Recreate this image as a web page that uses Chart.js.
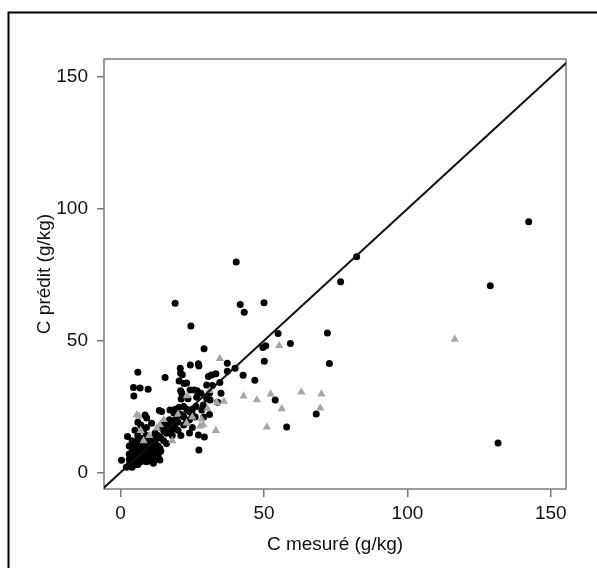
<!DOCTYPE html>
<html>
<head>
<meta charset="utf-8">
<script src="https://cdn.jsdelivr.net/npm/chart.js@4"></script>
<style>
  body { margin: 0; background: #fff; }
  canvas { display: block; }
</style>
</head>
<body>
<canvas id="myChart" width="597" height="568"></canvas>
<script>
// black dots: [C mesuré, C prédit] (g/kg)
const blackPoints = [
  [142.3, 95.1], [131.6, 11.2], [128.9, 70.8], [82.3, 81.8], [76.7, 72.4], [72.1, 52.9], [72.8, 41.3],
  [68.2, 22.2], [54.9, 52.7], [59.2, 48.9], [57.9, 17.2], [53.9, 27.5], [50.1, 42.2], [49.6, 47.4],
  [50.6, 48.1], [50.0, 64.4], [43.1, 60.8], [41.7, 63.7], [40.3, 79.9], [19.0, 64.2], [24.5, 55.6],
  [29.1, 46.9], [46.8, 35.0], [42.7, 36.9], [37.2, 41.4], [37.2, 38.4], [39.9, 39.5], [33.2, 37.4],
  [31.7, 37.0], [30.6, 36.4], [34.6, 34.1], [30.0, 33.2], [24.3, 40.8], [27.1, 41.2], [20.8, 39.5],
  [20.9, 37.6], [6.0, 38.0], [15.5, 36.0], [20.4, 34.7], [22.1, 33.7], [4.5, 32.2], [6.8, 32.0],
  [9.6, 31.6], [4.6, 29.0], [20.9, 31.0], [24.2, 31.3], [25.6, 31.3], [26.7, 31.0], [21.1, 27.9],
  [23.5, 28.0], [26.5, 28.5], [31.2, 27.5], [33.8, 26.6], [28.8, 25.6], [28.3, 23.7], [26.3, 25.0],
  [27.1, 14.2], [29.2, 13.4], [27.3, 8.5], [20.4, 24.7], [20.7, 21.8], [18.6, 22.5], [17.2, 23.7],
  [14.3, 23.1], [13.5, 23.5], [19.5, 19.3], [18.9, 17.4], [17.8, 16.1], [16.0, 14.9], [8.5, 21.8],
  [9.1, 20.6], [10.8, 18.7], [2.4, 13.6], [0.3, 4.6], [13.1, 6.0], [13.7, 4.7], [21.3, 30.1],
  [23.0, 33.9], [27.3, 40.4], [21.5, 37.1], [12, 12], [13, 14], [14, 13], [15, 16], [16, 17],
  [17, 18], [18, 19], [19, 20], [20, 19], [21, 22], [22, 21], [23, 24], [24, 23], [25, 24],
  [22, 25], [19, 24], [17, 20], [15, 19], [14, 17], [12, 15], [11, 13], [10, 12], [11, 10],
  [12, 11], [13, 10], [15, 12], [16, 11], [18, 14], [20, 16], [22, 18], [24, 20], [25, 22],
  [26, 21], [23, 19], [21, 14], [14, 8], [12, 9], [31, 30], [32, 33], [35, 30], [28, 30],
  [30, 28], [29, 21], [31, 22], [25, 17], [24, 15], [13.7, 9.2], [11.4, 3.5],
  [3, 3], [4, 4], [5, 3], [6, 5], [4, 6], [5, 7], [6, 8], [7, 6], [8, 7], [7, 9], [8, 10],
  [9, 8], [10, 9], [9, 11], [10, 7], [11, 8], [3, 5], [4, 2], [5, 5], [6, 3], [7, 4], [8, 5],
  [9, 6], [10, 5], [11, 6], [12, 7], [6, 10], [5, 9], [3, 7], [7, 12], [8, 13], [9, 14],
  [10, 13], [11, 11], [2, 2], [6, 6], [7, 7], [8, 8], [4, 9], [5, 11], [6, 12], [3, 10],
  [11, 4], [12, 5], [9, 4], [10, 11], [6, 14], [4, 12], [5, 16], [7, 18], [6, 19], [8, 16], [9, 17]
];
// grey triangles
const greyPoints = [
  [116.5, 50.5], [55.3, 48.1], [34.6, 43.2], [23.2, 29.1], [42.9, 29.0], [47.5, 27.5], [52.3, 29.7],
  [56.2, 24.1], [51.0, 17.2], [33.5, 26.5], [30.3, 24.1], [33.2, 15.9], [27.7, 17.6], [28.8, 18.0],
  [6.4, 21.3], [7.0, 15.9], [12.6, 16.8], [13.7, 18.0], [23.0, 18.7], [63, 30.5], [70, 29.7],
  [69.6, 24.4], [5.6, 21.8], [28.2, 20.2], [10, 14], [15, 20], [20, 22], [25, 21], [18, 12],
  [8, 12], [31, 31], [36, 27]
];
const lineEnds = [[-10, -10], [170, 170]];
const xTicks = [0, 50, 100, 150];
const yTicks = [0, 50, 100, 150];
const xTitle = 'C mesuré (g/kg)';
const yTitle = 'C prédit (g/kg)';

const toXY = arr => arr.map(p => ({ x: p[0], y: p[1] }));
const fontFam = '"Liberation Sans", Arial, Helvetica, sans-serif';

// outer frame (top + left only visible) and the grey plot box
const framePlugin = {
  id: 'frame',
  beforeDatasetsDraw(chart) {
    const c = chart.ctx;
    const a = chart.chartArea;
    c.save();
    c.strokeStyle = '#7a7a7a';
    c.lineWidth = 1.5;
    c.strokeRect(a.left, a.top, a.right - a.left, a.bottom - a.top);
    c.strokeStyle = '#000';
    c.lineWidth = 2;
    c.beginPath();
    c.moveTo(8.5, 600);
    c.lineTo(8.5, 12.5);
    c.lineTo(600, 12.5);
    c.stroke();
    c.restore();
  }
};

const ctx = document.getElementById('myChart').getContext('2d');
const chart = new Chart(ctx, {
  type: 'scatter',
  data: {
    datasets: [
      {
        type: 'line',
        data: toXY(lineEnds),
        borderColor: '#111',
        borderWidth: 2,
        pointRadius: 0,
        fill: false
      },
      {
        data: toXY(greyPoints),
        pointStyle: 'triangle',
        pointRadius: 4.8,
        backgroundColor: '#a6a6a6',
        borderColor: '#a6a6a6',
        borderWidth: 0
      },
      {
        data: toXY(blackPoints),
        pointStyle: 'circle',
        pointRadius: 3.5,
        backgroundColor: '#000',
        borderColor: '#000',
        borderWidth: 0
      }
    ]
  },
  options: {
    responsive: false,
    animation: false,
    layout: { padding: { top: 59, right: 31, left: 0, bottom: 0 } },
    plugins: {
      legend: { display: false },
      tooltip: { enabled: false }
    },
    scales: {
      x: {
        type: 'linear',
        min: -5.8,
        max: 155.3,
        afterBuildTicks: s => { s.ticks = xTicks.map(v => ({ value: v })); },
        afterFit: s => { s.height = 79; },
        grid: { drawOnChartArea: false, tickLength: 8, tickColor: '#7a7a7a', lineWidth: 1.5 },
        border: { display: false },
        ticks: { color: '#111', padding: 5, font: { family: fontFam, size: 19 } },
        title: {
          display: true, text: xTitle, color: '#111',
          padding: { top: 0, bottom: 12 },
          font: { family: fontFam, size: 19 }
        }
      },
      y: {
        type: 'linear',
        min: -6.3,
        max: 156.9,
        afterBuildTicks: s => { s.ticks = yTicks.map(v => ({ value: v })); },
        afterFit: s => { s.width = 104; },
        grid: { drawOnChartArea: false, tickLength: 7, tickColor: '#7a7a7a', lineWidth: 1.5 },
        border: { display: false },
        ticks: { color: '#111', padding: 9, font: { family: fontFam, size: 19 } },
        title: {
          display: true, text: yTitle, color: '#111',
          padding: { top: 33, bottom: 0 },
          font: { family: fontFam, size: 19 }
        }
      }
    }
  },
  plugins: [framePlugin]
});
</script>
</body>
</html>
